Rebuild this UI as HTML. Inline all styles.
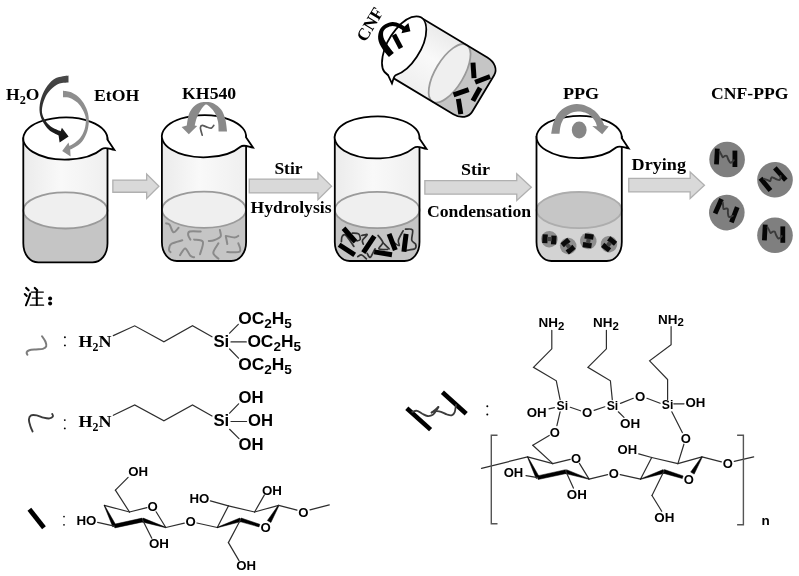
<!DOCTYPE html>
<html><head><meta charset="utf-8"><title>CNF-PPG preparation scheme</title>
<style>
html,body{margin:0;padding:0;background:#fff;overflow:hidden}
svg{display:block;filter:blur(0.4px)}
text{font-family:"Liberation Sans",sans-serif;}
.ts{font-family:"Liberation Serif",serif;font-weight:bold;font-size:17.3px;fill:#000}
.sa{font-family:"Liberation Sans",sans-serif;font-weight:bold;font-size:16px;fill:#000}
.sb{font-family:"Liberation Sans",sans-serif;font-weight:bold;font-size:13.2px;fill:#000}
.sc{font-family:"Liberation Sans",sans-serif;font-weight:bold;font-size:13px;fill:#000}
.bd{stroke:#2e2e2e;stroke-width:1.2;fill:none;stroke-linecap:round}
.bk{fill:#000;stroke:#000;stroke-width:0.5;stroke-linejoin:round}
</style></head><body>
<svg width="799" height="576" viewBox="0 0 799 576">
<defs>
<linearGradient id="gbody" x1="0" y1="0" x2="1" y2="0">
<stop offset="0" stop-color="#ebebeb"/><stop offset="0.45" stop-color="#f9f9f9"/><stop offset="1" stop-color="#efefef"/>
</linearGradient>
<linearGradient id="gdark" x1="0" y1="0" x2="0" y2="1">
<stop offset="0" stop-color="#4a4a4a"/><stop offset="1" stop-color="#111"/>
</linearGradient>
</defs>
<rect width="799" height="576" fill="#fff"/>

<path d="M112.85,180.05 L146.65,180.05 L146.65,174.1 L158.95,186.25 L146.65,198.4 L146.65,192.25 L112.85,192.25 Z" fill="#d9d9d9" stroke="#b0b0b0" stroke-width="1.3" stroke-linejoin="miter"/>
<path d="M249.25,179.05 L317.95,179.05 L317.95,172.7 L331.55,186.14999999999998 L317.95,199.6 L317.95,192.95 L249.25,192.95 Z" fill="#d9d9d9" stroke="#b0b0b0" stroke-width="1.3" stroke-linejoin="miter"/>
<path d="M424.85,180.65 L516.75,180.65 L516.75,173.7 L531.35,187.14999999999998 L516.75,200.6 L516.75,194.15 L424.85,194.15 Z" fill="#d9d9d9" stroke="#b0b0b0" stroke-width="1.3" stroke-linejoin="miter"/>
<path d="M628.75,178.45 L690.15,178.45 L690.15,171.9 L704.45,185.25 L690.15,198.6 L690.15,191.95 L628.75,191.95 Z" fill="#d9d9d9" stroke="#b0b0b0" stroke-width="1.3" stroke-linejoin="miter"/>
<clipPath id="cb23"><path d="M23.3,138.5 L23.3,243.3 C23.3,254.7 30.1,262.3 38.3,262.3 L92.5,262.3 C100.8,262.3 107.5,254.7 107.5,243.3 L107.5,138.5 Z"/></clipPath><path d="M23.3,138.5 L23.3,243.3 C23.3,254.7 30.1,262.3 38.3,262.3 L92.5,262.3 C100.8,262.3 107.5,254.7 107.5,243.3 L107.5,138.5 Z" fill="url(#gbody)"/><rect x="21.3" y="210.4" width="88.2" height="55.9" fill="#c5c5c5" clip-path="url(#cb23)"/><g id="ccb23"></g>
<ellipse cx="65.4" cy="210.4" rx="42.1" ry="18.1" fill="#efefef" stroke="#9a9a9a" stroke-width="1.80"/><path d="M23.3,138.5 L23.3,243.3 C23.3,254.7 30.1,262.3 38.3,262.3 L92.5,262.3 C100.8,262.3 107.5,254.7 107.5,243.3 L107.5,138.5 Z" fill="none" stroke="#000" stroke-width="1.80"/><path d="M101.9,149.0 A42.1,21.0 0 1 1 107.4,139.6 L114.4,149.9 C109.4,149.0 105.4,146.4 101.9,149.0 Z" fill="#fff" stroke="#000" stroke-width="1.80" stroke-linejoin="miter"/>
<clipPath id="cb161"><path d="M161.9,136.2 L161.9,242.0 C161.9,253.4 168.7,261.0 176.9,261.0 L231.1,261.0 C239.4,261.0 246.1,253.4 246.1,242.0 L246.1,136.2 Z"/></clipPath><path d="M161.9,136.2 L161.9,242.0 C161.9,253.4 168.7,261.0 176.9,261.0 L231.1,261.0 C239.4,261.0 246.1,253.4 246.1,242.0 L246.1,136.2 Z" fill="url(#gbody)"/><rect x="159.9" y="209.7" width="88.2" height="55.3" fill="#c5c5c5" clip-path="url(#cb161)"/><g id="ccb161"></g>
<g fill="none" stroke="#8a8a8a" stroke-width="2" stroke-linecap="round" stroke-linejoin="round"><path d="M166.1,223.3 C166.7,223.6 168.5,223.3 169.7,224.8 C170.9,226.3 171.9,231.7 173.4,232.2 C174.9,232.7 177.7,228.5 178.6,227.8 "/><path d="M200.7,231.5 C198.9,231.5 191.8,230.9 189.7,231.5 C187.6,232.1 188.1,233.8 188.2,235.1 C188.3,236.4 190.0,238.8 190.4,239.6 "/><path d="M194.1,239.6 C195.6,240.0 201.9,239.4 202.9,241.8 C203.9,244.2 200.5,252.2 200.0,254.3 "/><path d="M219.9,230.0 C220.0,231.1 221.6,234.9 220.6,236.6 C219.6,238.3 216.0,239.6 214.0,240.3 C212.0,241.0 209.7,240.9 208.8,241.0 "/><path d="M225.8,235.9 C227.3,236.2 232.5,237.4 234.6,237.4 C236.7,237.4 237.7,236.2 238.3,235.9 "/><path d="M225.8,236.6 C226.1,237.8 227.1,242.8 227.3,244.0 "/><path d="M238.3,243.3 C238.6,244.7 241.6,249.9 239.8,251.4 C238.0,252.9 229.4,252.0 227.3,252.1 "/><path d="M182.3,240.3 C180.5,240.9 173.4,242.4 171.2,244.0 C169.0,245.6 169.1,248.6 169.0,249.9 C168.9,251.2 170.2,251.7 170.5,252.1 "/><path d="M180.1,255.1 C180.9,254.0 183.5,248.3 185.2,248.4 C186.9,248.5 188.9,254.3 190.4,255.8 C191.9,257.3 193.5,257.1 194.1,257.3 "/><path d="M218.4,243.3 C217.6,244.9 213.3,250.2 213.3,252.8 C213.3,255.4 217.6,257.7 218.4,258.7 "/></g>
<ellipse cx="204.0" cy="209.7" rx="42.1" ry="18.1" fill="#efefef" stroke="#9a9a9a" stroke-width="1.80"/><path d="M161.9,136.2 L161.9,242.0 C161.9,253.4 168.7,261.0 176.9,261.0 L231.1,261.0 C239.4,261.0 246.1,253.4 246.1,242.0 L246.1,136.2 Z" fill="none" stroke="#000" stroke-width="1.80"/><path d="M240.5,146.7 A42.1,21.0 0 1 1 246.0,137.3 L253.0,147.6 C248.0,146.7 244.0,144.1 240.5,146.7 Z" fill="#fff" stroke="#000" stroke-width="1.80" stroke-linejoin="miter"/>
<clipPath id="cb334"><path d="M334.8,137.4 L334.8,242.0 C334.8,253.4 341.6,261.0 349.8,261.0 L404.5,261.0 C412.8,261.0 419.5,253.4 419.5,242.0 L419.5,137.4 Z"/></clipPath><path d="M334.8,137.4 L334.8,242.0 C334.8,253.4 341.6,261.0 349.8,261.0 L404.5,261.0 C412.8,261.0 419.5,253.4 419.5,242.0 L419.5,137.4 Z" fill="url(#gbody)"/><rect x="332.8" y="210.0" width="88.7" height="55.0" fill="#c5c5c5" clip-path="url(#cb334)"/><g id="ccb334"></g>
<g fill="none" stroke="#333" stroke-width="1.7" stroke-linecap="round" stroke-linejoin="round"><path d="M341.4,241.7 C341.5,240.8 341.4,237.3 342.2,236.3 C343.0,235.3 344.2,233.8 346.1,235.5 C348.1,237.2 352.6,244.6 353.9,246.4 "/><path d="M352.3,233.1 C353.4,233.2 357.3,232.8 358.6,233.9 C359.9,235.0 360.5,238.2 360.2,239.4 C359.9,240.6 357.5,240.7 357.0,240.9 "/><path d="M361.7,235.5 C362.6,235.4 367.1,233.9 367.2,234.7 C367.3,235.5 363.1,238.6 362.5,240.2 C361.9,241.8 363.2,243.4 363.3,244.1 "/><path d="M378.1,235.5 C378.9,236.7 382.7,240.3 382.8,242.5 C382.9,244.7 378.1,247.6 378.9,248.8 C379.7,250.0 386.1,249.4 387.5,249.5 "/><path d="M382.8,242.5 C383.9,243.6 388.1,247.8 389.1,248.8 "/><path d="M393.8,242.5 C394.7,243.0 398.4,246.0 399.2,245.6 C400.0,245.2 397.8,242.7 398.4,240.2 C399.0,237.7 402.3,232.4 403.1,230.8 "/><path d="M405.5,229.2 C406.7,229.3 411.5,228.2 412.5,230.0 C413.5,231.8 411.2,237.8 411.7,240.2 C412.2,242.5 415.1,242.7 415.6,244.1 C416.1,245.5 416.4,247.7 414.8,248.8 C413.2,249.8 407.7,250.0 406.2,250.3 "/><path d="M357.8,256.6 C358.4,256.3 360.3,254.6 361.7,255.0 C363.1,255.4 365.6,258.2 366.4,258.9 "/><path d="M367.2,253.4 C367.7,254.1 369.0,258.1 370.3,257.3 C371.6,256.5 374.2,250.2 375.0,248.8 "/></g>
<rect x="-9.0" y="-2.5" width="18.0" height="5.0" fill="#000" transform="translate(349.5,235.0) rotate(48.6)"/>
<rect x="-9.3" y="-2.5" width="18.6" height="5.0" fill="#000" transform="translate(346.9,249.8) rotate(33.0)"/>
<rect x="-9.8" y="-2.5" width="19.7" height="5.0" fill="#000" transform="translate(368.8,244.4) rotate(-56.0)"/>
<rect x="-9.0" y="-2.5" width="18.0" height="5.0" fill="#000" transform="translate(383.1,253.3) rotate(9.0)"/>
<rect x="-8.8" y="-2.5" width="17.5" height="5.0" fill="#000" transform="translate(392.2,242.0) rotate(69.0)"/>
<rect x="-9.0" y="-2.5" width="18.0" height="5.0" fill="#000" transform="translate(405.0,242.8) rotate(97.0)"/>
<ellipse cx="377.2" cy="210.0" rx="42.4" ry="18.1" fill="#efefef" stroke="#9a9a9a" stroke-width="1.80"/><path d="M334.8,137.4 L334.8,242.0 C334.8,253.4 341.6,261.0 349.8,261.0 L404.5,261.0 C412.8,261.0 419.5,253.4 419.5,242.0 L419.5,137.4 Z" fill="none" stroke="#000" stroke-width="1.80"/><path d="M413.8,147.9 A42.4,21.0 0 1 1 419.4,138.5 L426.4,148.8 C421.4,147.9 417.3,145.3 413.8,147.9 Z" fill="#fff" stroke="#000" stroke-width="1.80" stroke-linejoin="miter"/>
<clipPath id="cb536"><path d="M536.5,137.0 L536.5,242.0 C536.5,253.4 543.2,261.0 551.5,261.0 L606.8,261.0 C615.0,261.0 621.8,253.4 621.8,242.0 L621.8,137.0 Z"/></clipPath><path d="M536.5,137.0 L536.5,242.0 C536.5,253.4 543.2,261.0 551.5,261.0 L606.8,261.0 C615.0,261.0 621.8,253.4 621.8,242.0 L621.8,137.0 Z" fill="#ffffff"/><rect x="534.5" y="210.1" width="89.3" height="54.9" fill="#d3d3d3" clip-path="url(#cb536)"/><g id="ccb536"></g>
<ellipse cx="579.1" cy="210.1" rx="42.6" ry="18.1" fill="#c6c6c6" stroke="#adadad" stroke-width="1.80"/><path d="M536.5,137.0 L536.5,242.0 C536.5,253.4 543.2,261.0 551.5,261.0 L606.8,261.0 C615.0,261.0 621.8,253.4 621.8,242.0 L621.8,137.0 Z" fill="none" stroke="#000" stroke-width="1.80"/><path d="M616.1,147.5 A42.6,21.0 0 1 1 621.7,138.1 L628.7,148.4 C623.7,147.5 619.6,144.9 616.1,147.5 Z" fill="#fff" stroke="#000" stroke-width="1.80" stroke-linejoin="miter"/>
<g transform="translate(549.4,239.2) rotate(3)"><circle r="8.3" fill="#8e8e8e"/><rect x="-7.0" y="-4.6" width="5.2" height="8.8" fill="#0a0a0a"/><rect x="1.8" y="-3.9" width="5.2" height="8.8" fill="#0a0a0a"/><rect x="-2.2" y="-2.2" width="4.4" height="4.2" fill="#444"/></g>
<g transform="translate(568.2,246.0) rotate(50)"><circle r="8.3" fill="#8e8e8e"/><rect x="-7.0" y="-4.6" width="5.2" height="8.8" fill="#0a0a0a"/><rect x="1.8" y="-3.9" width="5.2" height="8.8" fill="#0a0a0a"/><rect x="-2.2" y="-2.2" width="4.4" height="4.2" fill="#444"/></g>
<g transform="translate(588.3,240.9) rotate(98)"><circle r="8.3" fill="#8e8e8e"/><rect x="-7.0" y="-4.6" width="5.2" height="8.8" fill="#0a0a0a"/><rect x="1.8" y="-3.9" width="5.2" height="8.8" fill="#0a0a0a"/><rect x="-2.2" y="-2.2" width="4.4" height="4.2" fill="#444"/></g>
<g transform="translate(609.0,244.2) rotate(-52)"><circle r="8.3" fill="#8e8e8e"/><rect x="-7.0" y="-4.6" width="5.2" height="8.8" fill="#0a0a0a"/><rect x="1.8" y="-3.9" width="5.2" height="8.8" fill="#0a0a0a"/><rect x="-2.2" y="-2.2" width="4.4" height="4.2" fill="#444"/></g>
<g id="tilt" transform="translate(404.1,46.0) rotate(-59) scale(-0.785,0.785) translate(-42.1,0)">
<clipPath id="cb0"><path d="M0.0,0.0 L0.0,98.5 C0.0,109.9 6.8,117.5 15.0,117.5 L69.2,117.5 C77.5,117.5 84.2,109.9 84.2,98.5 L84.2,0.0 Z"/></clipPath><path d="M0.0,0.0 L0.0,98.5 C0.0,109.9 6.8,117.5 15.0,117.5 L69.2,117.5 C77.5,117.5 84.2,109.9 84.2,98.5 L84.2,0.0 Z" fill="url(#gbody)"/><rect x="-2.0" y="67.6" width="88.2" height="53.9" fill="#c5c5c5" clip-path="url(#cb0)"/><g id="ccb0"></g>
<ellipse cx="42.1" cy="67.6" rx="42.1" ry="18.1" fill="#efefef" stroke="#9a9a9a" stroke-width="2.25"/><path d="M0.0,0.0 L0.0,98.5 C0.0,109.9 6.8,117.5 15.0,117.5 L69.2,117.5 C77.5,117.5 84.2,109.9 84.2,98.5 L84.2,0.0 Z" fill="none" stroke="#000" stroke-width="2.25"/><path d="M78.6,10.5 A42.1,21.0 0 1 1 84.1,1.1 L91.1,11.4 C86.1,10.5 82.1,7.9 78.6,10.5 Z" fill="#fff" stroke="#000" stroke-width="2.25" stroke-linejoin="miter"/>
</g>
<path d="M68.5,75.4 C66.4,75.8 59.5,76.3 56.0,78.0 C52.5,79.7 49.9,82.5 47.4,85.8 C44.9,89.1 42.6,94.0 41.3,98.0 C40.0,102.0 39.4,106.3 39.5,110.1 C39.6,113.9 40.6,117.3 42.2,120.6 C43.8,123.9 46.4,127.6 49.1,130.1 C51.8,132.6 57.0,134.7 58.6,135.6 L59.6,142.6 L68.6,136.4 L61.9,127.8 L60.6,131.3 C59.0,130.5 53.5,128.7 50.8,126.6 C48.1,124.5 45.7,121.5 44.2,118.8 C42.7,116.0 41.8,113.5 41.9,110.1 C42.0,106.7 43.3,101.8 44.8,98.4 C46.3,95.0 48.3,92.1 50.8,89.6 C53.2,87.1 56.5,84.8 59.5,83.6 C62.5,82.4 67.0,82.6 68.5,82.4 Z" fill="url(#gdark)"/>
<path d="M63.0,90.8 C64.5,91.1 68.8,91.3 71.7,92.6 C74.6,93.9 77.8,96.1 80.3,98.7 C82.8,101.3 85.0,105.1 86.4,108.4 C87.8,111.8 88.6,115.0 88.8,118.8 C89.0,122.6 88.5,127.2 87.4,131.0 C86.3,134.8 84.3,138.6 82.1,141.4 C79.9,144.2 76.3,146.2 74.3,147.6 C72.3,149.0 70.9,149.3 70.2,149.6 L70.6,156.4 L62.2,150.9 L68.5,142.6 L69.4,145.9 C70.1,145.6 71.6,145.1 73.4,143.8 C75.2,142.5 78.2,140.3 80.1,137.9 C82.0,135.5 83.6,132.4 84.6,129.2 C85.5,126.0 86.1,122.0 85.8,118.8 C85.5,115.6 84.2,112.8 82.8,110.1 C81.4,107.4 79.6,104.6 77.4,102.6 C75.2,100.6 72.3,98.9 69.9,98.0 C67.5,97.1 64.2,97.4 63.0,97.3 Z" fill="#8e8e8e"/>
<path d="M227.1,131.5 C226.8,129.5 226.3,123.0 225.3,119.3 C224.3,115.6 223.0,112.2 221.1,109.6 C219.2,107.0 216.2,104.8 213.8,103.5 C211.4,102.2 208.9,102.1 206.5,102.0 C204.1,101.9 201.4,102.0 199.2,102.9 C197.0,103.8 194.8,105.3 193.1,107.2 C191.4,109.1 189.9,111.4 188.8,114.5 C187.8,117.6 187.1,123.8 186.8,125.6 L181.6,126.9 L188.8,134.3 L197.2,126.0 L194.7,125.6 C195.0,124.3 195.8,120.6 196.7,118.1 C197.6,115.6 198.9,113.0 200.4,110.8 C201.9,108.5 204.0,105.2 205.6,104.6 C207.2,104.0 208.5,105.8 210.1,107.2 C211.7,108.6 213.7,110.8 215.0,113.2 C216.3,115.6 217.4,118.7 218.0,121.7 C218.6,124.8 218.5,129.9 218.6,131.5 Z" fill="#8a8a8a"/>
<path d="M202.2,135.1 C201.9,133.9 200.4,129.4 200.4,127.8 C200.4,126.2 201.2,125.6 202.2,125.4 C203.2,125.2 205.0,126.5 206.5,126.9 C208.0,127.4 210.1,128.3 211.3,128.1 C212.5,127.8 213.4,125.9 213.8,125.4 " fill="none" stroke="#5a5a5a" stroke-width="1.7" stroke-linecap="round"/>
<path d="M551.2,133.7 C551.6,131.9 552.2,126.4 553.4,123.0 C554.6,119.6 556.0,115.9 558.2,113.2 C560.4,110.5 563.7,108.1 566.7,106.6 C569.8,105.1 573.2,104.2 576.5,104.1 C579.8,104.0 583.2,104.8 586.2,105.9 C589.2,107.0 592.3,108.8 594.7,110.8 C597.1,112.8 599.2,115.7 600.8,118.1 C602.4,120.5 603.6,123.8 604.2,125.0 L608.7,126.4 L602.2,134.3 L592.3,126.0 L597.0,126.2 C596.7,125.5 596.3,123.4 595.3,121.7 C594.3,120.0 592.8,117.8 591.1,116.3 C589.4,114.8 587.2,113.4 585.0,112.6 C582.8,111.8 580.1,111.3 577.7,111.4 C575.3,111.5 572.6,112.1 570.4,113.2 C568.2,114.3 565.9,116.1 564.3,118.1 C562.7,120.1 561.5,122.8 560.7,125.4 C559.9,128.0 559.7,132.3 559.5,133.7 Z" fill="#8a8a8a"/>
<ellipse cx="579.2" cy="130" rx="7.4" ry="8.5" fill="#868686"/>
<path d="M388.9,57.1 C387.8,55.7 384.0,51.6 382.2,48.6 C380.4,45.6 378.6,42.0 378.2,38.9 C377.8,35.8 378.6,32.2 379.8,29.8 C381.0,27.4 383.2,25.6 385.3,24.3 C387.4,23.0 390.2,22.0 392.6,21.9 C395.0,21.8 397.8,22.9 399.8,23.7 C401.8,24.5 403.8,26.1 404.6,26.6 L408.4,23.1 L410.4,31.2 L401.5,33.3 L402.4,30.2 C401.7,29.8 400.0,28.3 398.4,27.6 C396.8,26.9 394.5,26.0 392.6,26.0 C390.7,26.0 388.3,26.9 386.8,27.8 C385.3,28.7 383.9,30.0 383.4,31.6 C382.9,33.2 382.9,35.5 383.6,37.7 C384.3,39.9 386.0,42.5 387.7,45.0 C389.4,47.5 392.8,51.6 393.8,52.9 Z" fill="#000"/>
<rect x="-7.5" y="-2.4" width="15.1" height="4.8" fill="#000" transform="translate(397.4,41.3) rotate(62.0)"/>
<rect x="-7.8" y="-2.5" width="15.5" height="5.0" fill="#000" transform="translate(473.5,70.4) rotate(86.0)"/>
<rect x="-8.0" y="-2.5" width="16.0" height="5.0" fill="#000" transform="translate(482.6,79.4) rotate(-21.0)"/>
<rect x="-8.0" y="-2.5" width="16.0" height="5.0" fill="#000" transform="translate(461.1,92.3) rotate(-19.0)"/>
<rect x="-7.5" y="-2.5" width="15.0" height="5.0" fill="#000" transform="translate(476.5,94.3) rotate(-61.0)"/>
<rect x="-7.8" y="-2.5" width="15.5" height="5.0" fill="#000" transform="translate(459.6,106.5) rotate(81.0)"/>
<g transform="translate(727.1,159.5) rotate(0)"><circle r="17.8" fill="#7f7f7f"/><rect x="-12.6" y="-10.8" width="4.8" height="15.8" fill="#060606" transform="rotate(3 -10.2 -2.9)"/><rect x="5.4" y="-8.9" width="4.8" height="16.4" fill="#060606"/><path d="M-7.4,-8.0 C-7.1,-7.4 -6.1,-5.5 -5.6,-4.5 C-5.1,-3.5 -4.9,-2.4 -4.3,-2.2 C-3.7,-2.1 -2.9,-3.4 -2.2,-3.6 C-1.5,-3.8 -0.9,-4.2 -0.3,-3.6 C0.3,-3.0 0.6,-1.1 1.2,0.0 C1.8,1.1 2.5,2.7 3.2,3.1 C3.9,3.5 4.6,2.8 5.2,2.4 C5.8,2.0 6.5,1.1 6.7,0.8 " fill="none" stroke="#3a3a3a" stroke-width="1.9" stroke-linecap="round"/></g>
<g transform="translate(775.0,179.8) rotate(-42)"><circle r="17.8" fill="#7f7f7f"/><rect x="-12.6" y="-10.8" width="4.8" height="15.8" fill="#060606" transform="rotate(3 -10.2 -2.9)"/><rect x="5.4" y="-8.9" width="4.8" height="16.4" fill="#060606"/><path d="M-7.4,-8.0 C-7.1,-7.4 -6.1,-5.5 -5.6,-4.5 C-5.1,-3.5 -4.9,-2.4 -4.3,-2.2 C-3.7,-2.1 -2.9,-3.4 -2.2,-3.6 C-1.5,-3.8 -0.9,-4.2 -0.3,-3.6 C0.3,-3.0 0.6,-1.1 1.2,0.0 C1.8,1.1 2.5,2.7 3.2,3.1 C3.9,3.5 4.6,2.8 5.2,2.4 C5.8,2.0 6.5,1.1 6.7,0.8 " fill="none" stroke="#3a3a3a" stroke-width="1.9" stroke-linecap="round"/></g>
<g transform="translate(726.8,212.6) rotate(21)"><circle r="17.8" fill="#7f7f7f"/><rect x="-12.6" y="-10.8" width="4.8" height="15.8" fill="#060606" transform="rotate(3 -10.2 -2.9)"/><rect x="5.4" y="-8.9" width="4.8" height="16.4" fill="#060606"/><path d="M-7.4,-8.0 C-7.1,-7.4 -6.1,-5.5 -5.6,-4.5 C-5.1,-3.5 -4.9,-2.4 -4.3,-2.2 C-3.7,-2.1 -2.9,-3.4 -2.2,-3.6 C-1.5,-3.8 -0.9,-4.2 -0.3,-3.6 C0.3,-3.0 0.6,-1.1 1.2,0.0 C1.8,1.1 2.5,2.7 3.2,3.1 C3.9,3.5 4.6,2.8 5.2,2.4 C5.8,2.0 6.5,1.1 6.7,0.8 " fill="none" stroke="#3a3a3a" stroke-width="1.9" stroke-linecap="round"/></g>
<g transform="translate(775.0,235.3) rotate(0)"><circle r="17.8" fill="#7f7f7f"/><rect x="-12.6" y="-10.8" width="4.8" height="15.8" fill="#060606" transform="rotate(3 -10.2 -2.9)"/><rect x="5.4" y="-8.9" width="4.8" height="16.4" fill="#060606"/><path d="M-7.4,-8.0 C-7.1,-7.4 -6.1,-5.5 -5.6,-4.5 C-5.1,-3.5 -4.9,-2.4 -4.3,-2.2 C-3.7,-2.1 -2.9,-3.4 -2.2,-3.6 C-1.5,-3.8 -0.9,-4.2 -0.3,-3.6 C0.3,-3.0 0.6,-1.1 1.2,0.0 C1.8,1.1 2.5,2.7 3.2,3.1 C3.9,3.5 4.6,2.8 5.2,2.4 C5.8,2.0 6.5,1.1 6.7,0.8 " fill="none" stroke="#3a3a3a" stroke-width="1.9" stroke-linecap="round"/></g>
<text x="6.0" y="100.4" class="ts" textLength="33.4" lengthAdjust="spacingAndGlyphs">H<tspan font-size="12" dy="3.6">2</tspan><tspan dy="-3.6">O</tspan></text>
<text x="94.0" y="101" class="ts" text-anchor="start" textLength="45.4" lengthAdjust="spacingAndGlyphs">EtOH</text>
<text x="182.1" y="99.3" class="ts" text-anchor="start" textLength="54.1" lengthAdjust="spacingAndGlyphs">KH540</text>
<text x="274.4" y="174" class="ts" text-anchor="start" textLength="28.2" lengthAdjust="spacingAndGlyphs">Stir</text>
<text x="250.6" y="213" class="ts" text-anchor="start" textLength="80.9" lengthAdjust="spacingAndGlyphs">Hydrolysis</text>
<text x="461.0" y="174.7" class="ts" text-anchor="start" textLength="29.0" lengthAdjust="spacingAndGlyphs">Stir</text>
<text x="426.9" y="217.2" class="ts" text-anchor="start" textLength="104.2" lengthAdjust="spacingAndGlyphs">Condensation</text>
<text x="563.0" y="98.6" class="ts" text-anchor="start" textLength="36.2" lengthAdjust="spacingAndGlyphs">PPG</text>
<text x="631.6" y="169.7" class="ts" text-anchor="start" textLength="54.4" lengthAdjust="spacingAndGlyphs">Drying</text>
<text x="711.1" y="98.7" class="ts" text-anchor="start" textLength="77.4" lengthAdjust="spacingAndGlyphs">CNF-PPG</text>
<text class="ts" transform="translate(365.5,42.7) rotate(-59)" x="0" y="0" textLength="36" lengthAdjust="spacingAndGlyphs">CNF</text>
<g fill="none" stroke="#000" stroke-linecap="round"><path d="M26.2,288 L28.6,290.3" stroke-width="2.2"/><path d="M24.8,294 L26.8,295.9" stroke-width="2.1"/><path d="M25.9,305.3 C27.6,301.5 29.2,297.5 30.3,293.6" stroke-width="2"/><path d="M34.8,288 L37.2,290.3" stroke-width="2.2"/><path d="M31.2,292.1 L43.4,292.1" stroke-width="1.1"/><path d="M36.8,291.8 L36.8,305" stroke-width="2"/><path d="M32.2,298.1 L42.4,298.1" stroke-width="1.1"/><path d="M30.2,305.2 L43.6,305.2" stroke-width="1.2"/></g>
<circle cx="50.1" cy="298.4" r="2" fill="#000"/><circle cx="50.1" cy="303.6" r="2" fill="#000"/>
<path d="M27.4,354.7 C27.3,354.3 26.3,353.1 26.6,352.4 C26.9,351.6 27.7,350.7 29.3,350.2 C30.9,349.7 33.8,349.6 36.0,349.4 C38.2,349.2 41.1,349.4 42.8,348.9 C44.5,348.4 45.8,347.6 46.2,346.4 C46.6,345.2 46.1,343.2 45.4,341.5 C44.7,339.8 42.6,337.2 42.0,336.3 " fill="none" stroke="#7c7c7c" stroke-width="2" stroke-linecap="round"/>
<path d="M32.6,431.5 C32.2,430.6 31.0,428.3 30.4,426.3 C29.8,424.3 28.8,421.3 28.9,419.5 C29.0,417.7 29.8,416.1 31.1,415.4 C32.4,414.7 34.7,415.0 36.8,415.4 C38.9,415.8 41.4,417.1 43.5,417.6 C45.6,418.1 47.9,418.6 49.5,418.4 C51.1,418.2 52.4,417.2 52.9,416.5 C53.4,415.8 52.3,414.3 52.2,413.9 " fill="none" stroke="#3a3a3a" stroke-width="1.9" stroke-linecap="round"/>
<rect x="-11.8" y="-2.4" width="23.5" height="4.8" fill="#000" transform="translate(36.7,518.5) rotate(51.6)"/>
<circle cx="64.9" cy="337.2" r="0.95" fill="#000"/><circle cx="64.9" cy="345.4" r="0.95" fill="#000"/>
<circle cx="64.8" cy="420.1" r="0.95" fill="#000"/><circle cx="64.8" cy="428.4" r="0.95" fill="#000"/>
<circle cx="64.0" cy="516.6" r="0.85" fill="#000"/><circle cx="64.0" cy="524.8" r="0.85" fill="#000"/>
<circle cx="487.3" cy="406.3" r="1.0" fill="#000"/><circle cx="487.3" cy="414.5" r="1.0" fill="#000"/>
<text x="78.5" y="347.2" class="ts" style="font-size:17.4px" textLength="33" lengthAdjust="spacingAndGlyphs">H<tspan font-size="11.5" dy="3.5">2</tspan><tspan dy="-3.5">N</tspan></text>
<text x="78.5" y="427.3" class="ts" style="font-size:17.4px" textLength="33" lengthAdjust="spacingAndGlyphs">H<tspan font-size="11.5" dy="3.5">2</tspan><tspan dy="-3.5">N</tspan></text>
<polyline points="113.3,335.6 134.7,325.8 163.9,341.7 192.5,325.8 212.0,336.8" class="bd"/>
<text x="213.4" y="346.7" class="sa" text-anchor="start" textLength="15.8" lengthAdjust="spacingAndGlyphs">Si</text>
<line x1="229.6" y1="333.2" x2="238.3" y2="324.3" class="bd"/>
<line x1="231.0" y1="341.9" x2="246.3" y2="341.9" class="bd"/>
<line x1="229.6" y1="349.0" x2="238.5" y2="358.2" class="bd"/>
<text x="238.3" y="324.4" class="sa" textLength="53.6" lengthAdjust="spacingAndGlyphs">OC<tspan font-size="12.5" dy="4">2</tspan><tspan dy="-4">H</tspan><tspan font-size="12.5" dy="4">5</tspan></text>
<text x="247.4" y="346.8" class="sa" textLength="53.6" lengthAdjust="spacingAndGlyphs">OC<tspan font-size="12.5" dy="4">2</tspan><tspan dy="-4">H</tspan><tspan font-size="12.5" dy="4">5</tspan></text>
<text x="238.3" y="369.6" class="sa" textLength="53.6" lengthAdjust="spacingAndGlyphs">OC<tspan font-size="12.5" dy="4">2</tspan><tspan dy="-4">H</tspan><tspan font-size="12.5" dy="4">5</tspan></text>
<polyline points="113.3,415.3 134.7,405.0 163.9,420.8 192.5,405.0 212.0,416.0" class="bd"/>
<text x="213.4" y="426.3" class="sa" text-anchor="start" textLength="15.8" lengthAdjust="spacingAndGlyphs">Si</text>
<line x1="229.6" y1="413.2" x2="238.6" y2="403.8" class="bd"/>
<line x1="231.0" y1="421.5" x2="246.6" y2="421.5" class="bd"/>
<line x1="229.6" y1="429.3" x2="239.0" y2="438.6" class="bd"/>
<text x="238.6" y="403.2" class="sa" text-anchor="start" textLength="25" lengthAdjust="spacingAndGlyphs">OH</text>
<text x="248.0" y="426.3" class="sa" text-anchor="start" textLength="25" lengthAdjust="spacingAndGlyphs">OH</text>
<text x="238.6" y="449.7" class="sa" text-anchor="start" textLength="25" lengthAdjust="spacingAndGlyphs">OH</text>
<line x1="104.3" y1="505.3" x2="129.5" y2="512.0" class="bd"/>
<line x1="129.5" y1="512.0" x2="146.9" y2="507.7" class="bd"/>
<line x1="156.1" y1="511.8" x2="165.8" y2="527.5" class="bd"/>
<polygon points="104.1,505.4 112.8,526.9 116.0,525.3 104.5,505.2" class="bk"/>
<polygon points="114.8,527.9 143.0,521.9 142.2,518.1 114.0,524.3" class="bk"/>
<polygon points="142.0,521.9 165.7,527.7 165.9,527.3 143.2,518.1" class="bk"/>
<line x1="129.5" y1="512.0" x2="115.4" y2="490.2" class="bd"/>
<line x1="142.6" y1="520.0" x2="151.8" y2="538.2" class="bd"/>
<line x1="165.8" y1="527.5" x2="184.3" y2="523.1" class="bd"/>
<line x1="196.9" y1="523.0" x2="217.3" y2="527.5" class="bd"/>
<line x1="217.3" y1="527.5" x2="228.4" y2="505.9" class="bd"/>
<line x1="228.4" y1="505.9" x2="254.6" y2="512.0" class="bd"/>
<line x1="254.6" y1="512.0" x2="278.7" y2="505.3" class="bd"/>
<polygon points="217.4,527.7 241.1,521.6 239.9,518.0 217.2,527.3" class="bk"/>
<polygon points="239.9,521.6 259.0,526.9 259.8,524.3 241.1,518.0" class="bk"/>
<polygon points="278.4,505.1 267.4,520.5 270.9,522.5 279.0,505.5" class="bk"/>
<line x1="240.5" y1="519.8" x2="228.4" y2="542.6" class="bd"/>
<line x1="228.4" y1="542.6" x2="239.0" y2="560.6" class="bd"/>
<line x1="278.7" y1="505.3" x2="297.0" y2="510.2" class="bd"/>
<text x="152.7" y="510.8" class="sb" text-anchor="middle">O</text>
<text x="190.6" y="526.1" class="sb" text-anchor="middle">O</text>
<text x="265.6" y="532.2" class="sb" text-anchor="middle">O</text>
<text x="303.3" y="516.6" class="sb" text-anchor="middle">O</text>
<line x1="115.4" y1="490.2" x2="128.1" y2="477.4" class="bd"/>
<text x="128.3" y="476.0" class="sb" text-anchor="start" textLength="19.9" lengthAdjust="spacingAndGlyphs">OH</text>
<line x1="114.4" y1="526.1" x2="97.6" y2="522.4" class="bd"/>
<text x="76.4" y="525.3" class="sb" text-anchor="start" textLength="20" lengthAdjust="spacingAndGlyphs">HO</text>
<text x="148.9" y="547.6" class="sb" text-anchor="start" textLength="20" lengthAdjust="spacingAndGlyphs">OH</text>
<line x1="228.4" y1="505.9" x2="210.4" y2="500.9" class="bd"/>
<text x="189.4" y="503.0" class="sb" text-anchor="start" textLength="19.9" lengthAdjust="spacingAndGlyphs">HO</text>
<line x1="254.6" y1="512.0" x2="264.4" y2="494.9" class="bd"/>
<text x="261.9" y="494.5" class="sb" text-anchor="start" textLength="20" lengthAdjust="spacingAndGlyphs">OH</text>
<text x="236.3" y="569.5" class="sb" text-anchor="start" textLength="19.8" lengthAdjust="spacingAndGlyphs">OH</text>
<line x1="310.0" y1="509.9" x2="329.3" y2="504.9" class="bd"/>
<line x1="527.6" y1="456.9" x2="552.8" y2="463.6" class="bd"/>
<line x1="552.8" y1="463.6" x2="570.2" y2="459.3" class="bd"/>
<line x1="579.4" y1="463.4" x2="589.1" y2="479.1" class="bd"/>
<polygon points="527.4,457.0 536.1,478.5 539.3,476.9 527.8,456.8" class="bk"/>
<polygon points="538.1,479.5 566.3,473.5 565.5,469.7 537.3,475.9" class="bk"/>
<polygon points="565.3,473.5 589.0,479.3 589.2,478.9 566.5,469.7" class="bk"/>
<line x1="552.8" y1="463.6" x2="532.8" y2="445.3" class="bd"/>
<line x1="565.9" y1="471.6" x2="573.4" y2="488.1" class="bd"/>
<line x1="589.1" y1="479.1" x2="607.6" y2="474.7" class="bd"/>
<line x1="620.2" y1="474.6" x2="640.6" y2="479.1" class="bd"/>
<line x1="640.6" y1="479.1" x2="651.7" y2="457.5" class="bd"/>
<line x1="651.7" y1="457.5" x2="677.9" y2="463.6" class="bd"/>
<line x1="677.9" y1="463.6" x2="702.0" y2="456.9" class="bd"/>
<polygon points="640.7,479.3 664.4,473.2 663.2,469.6 640.5,478.9" class="bk"/>
<polygon points="663.2,473.2 682.3,478.5 683.1,475.9 664.4,469.6" class="bk"/>
<polygon points="701.7,456.7 690.7,472.1 694.2,474.1 702.3,457.1" class="bk"/>
<line x1="663.8" y1="471.4" x2="652.0" y2="495.5" class="bd"/>
<line x1="652.0" y1="495.5" x2="661.7" y2="511.3" class="bd"/>
<line x1="702.0" y1="456.9" x2="721.4" y2="461.8" class="bd"/>
<text x="576.0" y="462.5" class="sc" text-anchor="middle">O</text>
<text x="613.9" y="477.8" class="sc" text-anchor="middle">O</text>
<text x="688.9" y="483.7" class="sc" text-anchor="middle">O</text>
<text x="727.7" y="468.0" class="sc" text-anchor="middle">O</text>
<line x1="481.5" y1="468.3" x2="527.6" y2="456.9" class="bd"/>
<line x1="532.8" y1="445.3" x2="549.2" y2="435.4" class="bd"/>
<text x="554.8" y="436.7" class="sc" text-anchor="middle">O</text>
<line x1="537.7" y1="477.7" x2="526.0" y2="475.6" class="bd"/>
<text x="503.7" y="476.8" class="sc" text-anchor="start" textLength="19.6" lengthAdjust="spacingAndGlyphs">OH</text>
<text x="566.8" y="499.2" class="sc" text-anchor="start" textLength="20.0" lengthAdjust="spacingAndGlyphs">OH</text>
<line x1="651.7" y1="457.5" x2="638.7" y2="453.8" class="bd"/>
<text x="617.5" y="454.2" class="sc" text-anchor="start" textLength="19.6" lengthAdjust="spacingAndGlyphs">OH</text>
<line x1="677.9" y1="463.6" x2="683.9" y2="444.2" class="bd"/>
<text x="685.8" y="442.6" class="sc" text-anchor="middle">O</text>
<line x1="734.2" y1="461.3" x2="753.7" y2="456.9" class="bd"/>
<text x="654.3" y="521.8" class="sc" text-anchor="start" textLength="20.1" lengthAdjust="spacingAndGlyphs">OH</text>
<path d="M497.5,435.3 L491.3,435.3 L491.3,523.8 L497.5,523.8" fill="none" stroke="#555" stroke-width="1.4"/>
<path d="M737.1,435.3 L743.4,435.3 L743.4,524.8 L737.1,524.8" fill="none" stroke="#555" stroke-width="1.4"/>
<text x="761.5" y="524.8" class="sc" text-anchor="start" style="font-size:13.5px">n</text>
<text x="556.6" y="409.7" class="sc" text-anchor="start" textLength="11.6" lengthAdjust="spacingAndGlyphs">Si</text>
<text x="606.7" y="409.7" class="sc" text-anchor="start" textLength="11.6" lengthAdjust="spacingAndGlyphs">Si</text>
<text x="661.8" y="409.4" class="sc" text-anchor="start" textLength="11.6" lengthAdjust="spacingAndGlyphs">Si</text>
<text x="582.1" y="417.1" class="sc" textLength="10.3" lengthAdjust="spacingAndGlyphs">O</text>
<text x="634.9" y="400.9" class="sc" textLength="10.3" lengthAdjust="spacingAndGlyphs">O</text>
<line x1="570.3" y1="407.3" x2="580.5" y2="410.8" class="bd"/>
<line x1="594.1" y1="410.4" x2="604.8" y2="406.8" class="bd"/>
<line x1="620.5" y1="403.4" x2="633.3" y2="398.3" class="bd"/>
<line x1="646.9" y1="398.3" x2="660.1" y2="403.2" class="bd"/>
<text x="526.8" y="416.7" class="sc" text-anchor="start" textLength="19.9" lengthAdjust="spacingAndGlyphs">OH</text>
<line x1="549.0" y1="408.9" x2="554.4" y2="407.7" class="bd"/>
<line x1="560.1" y1="411.8" x2="556.9" y2="425.6" class="bd"/>
<line x1="618.3" y1="411.8" x2="624.0" y2="417.4" class="bd"/>
<text x="620.1" y="427.8" class="sc" text-anchor="start" textLength="20.2" lengthAdjust="spacingAndGlyphs">OH</text>
<line x1="673.8" y1="403.8" x2="684.0" y2="403.8" class="bd"/>
<text x="685.4" y="407.3" class="sc" text-anchor="start" textLength="19.9" lengthAdjust="spacingAndGlyphs">OH</text>
<line x1="671.8" y1="411.8" x2="682.3" y2="432.6" class="bd"/>
<polyline points="551.8,330.3 551.8,348.8 533.5,367.3 556.3,380.8 560.1,399.6" class="bd"/>
<polyline points="606.4,330.3 606.4,348.8 587.9,367.3 610.4,380.8 612.3,399.6" class="bd"/>
<polyline points="671.1,326.6 671.1,344.8 649.6,360.8 667.6,379.5 667.6,399.6" class="bd"/>
<text x="538.6" y="327.2" class="sc" textLength="25.8" lengthAdjust="spacingAndGlyphs">NH<tspan font-size="11" dy="2.6">2</tspan></text>
<text x="593.1" y="327.2" class="sc" textLength="25.8" lengthAdjust="spacingAndGlyphs">NH<tspan font-size="11" dy="2.6">2</tspan></text>
<text x="658.1" y="323.5" class="sc" textLength="25.8" lengthAdjust="spacingAndGlyphs">NH<tspan font-size="11" dy="2.6">2</tspan></text>
<rect x="-16.0" y="-2.3" width="32.0" height="4.6" fill="#000" transform="translate(418.7,418.9) rotate(42.0)"/>
<rect x="-16.0" y="-2.3" width="32.0" height="4.6" fill="#000" transform="translate(454.3,403.0) rotate(42.0)"/>
<path d="M412.2,411.8 C413.0,411.6 415.3,410.5 417.0,410.8 C418.7,411.1 420.6,412.9 422.3,413.8 C424.1,414.7 425.8,415.8 427.5,416.0 C429.2,416.2 431.3,415.8 432.8,414.8 C434.3,413.8 435.7,411.3 436.6,410.0 C437.5,408.7 438.1,407.5 438.4,407.0 " fill="none" stroke="#3c3c3c" stroke-width="1.8" stroke-linecap="round" stroke-linejoin="round"/>
<path d="M438.4,407.0 C437.8,407.5 436.1,409.1 435.0,410.0 C433.9,410.9 432.2,412.2 431.6,412.6 " fill="none" stroke="#3c3c3c" stroke-width="1.8" stroke-linecap="round" stroke-linejoin="round"/>
<path d="M431.6,412.6 C432.3,412.4 434.4,411.3 436.0,411.2 C437.6,411.1 439.2,411.2 441.0,411.8 C442.8,412.4 445.2,413.9 447.0,414.5 C448.8,415.1 450.3,415.7 451.6,415.3 C452.9,414.9 453.9,414.1 454.6,412.3 C455.3,410.6 455.8,406.1 456.0,404.8 " fill="none" stroke="#3c3c3c" stroke-width="1.8" stroke-linecap="round" stroke-linejoin="round"/>
</svg></body></html>
